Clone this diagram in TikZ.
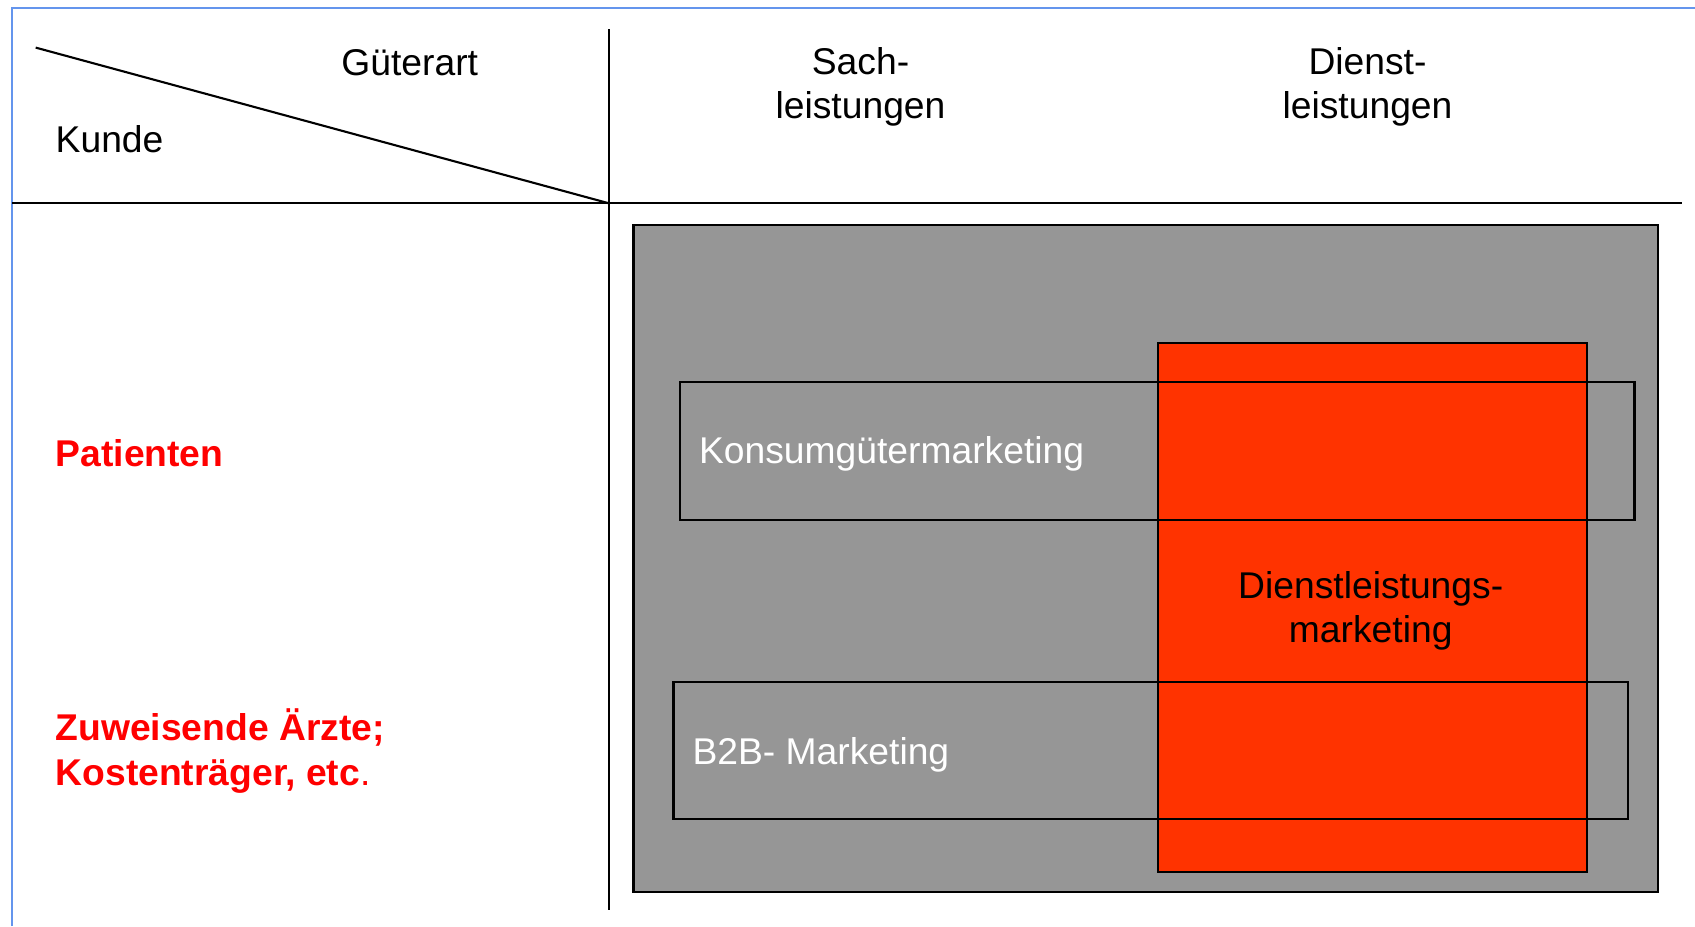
\documentclass[tikz,border=0pt]{standalone}
\usepackage{fontspec}
\setmainfont{Liberation Sans}
\usepackage{tikz}
\usepackage{xcolor}
\usetikzlibrary{positioning}

\definecolor{frameblue}{RGB}{100,149,237}
\definecolor{fieldgray}{RGB}{150,150,150}
\definecolor{svcred}{RGB}{255,51,0}
\definecolor{labelred}{RGB}{255,0,0}

\begin{document}
\begin{tikzpicture}
[
x=1cm, y=1cm,
grid-line/.style={line width=0.6pt},
box-a/.style={rectangle, draw, line width=0.6pt, inner sep=0pt, anchor=north west},
text-a/.style={font=\fontsize{10.6}{12.6}\selectfont, align=center, inner sep=0pt},
text-b/.style={text-a, anchor=west, align=left},
text-c/.style={text-b, text=labelred, font=\fontsize{10.6}{12.9}\selectfont\bfseries},
text-d/.style={text-b, text=white}
]

\useasboundingbox (0,0) rectangle (16.95,-9.26);

% frame
\draw [frameblue, line width=0.6pt] (0.12,-9.26) -- (0.12,-0.076) -- (16.95,-0.076);

% header grid
\coordinate (corner)   at (6.086,-2.032);
\coordinate (diag-top) at (0.357,-0.476);
\coordinate (col-top)  at (6.086,-0.292);
\coordinate (col-bot)  at (6.086,-9.10);
\coordinate (row-l)    at (0.12,-2.032);
\coordinate (row-r)    at (16.82,-2.032);
\draw [grid-line] (diag-top) -- (corner);
\draw [grid-line] (col-top) -- (col-bot);
\draw [grid-line] (row-l) -- (row-r);

\node (gueterart) [text-a] at (4.097,-0.63) {Güterart};
\node (kunde)     [text-b] at (0.55,-1.395)  {Kunde};
\node (sach)      [text-a] at (8.605,-0.87) {Sach-\\leistungen};
\node (dienst)    [text-a] at (13.675,-0.87) {Dienst-\\leistungen};

% customer rows
\node (patienten) [text-c] at (0.55,-4.53) {Patienten};
\node (aerzte)    [text-c] at (0.55,-7.51) {Zuweisende Ärzte;\\Kostenträger, etc\mdseries.};

% marketing fields
\node (field)   [box-a, fill=fieldgray, minimum width=10.246cm, minimum height=6.669cm] at (6.324,-2.238) {};
\node (service) [box-a, fill=svcred, minimum width=4.291cm, minimum height=5.297cm] at (11.567,-3.416) {};
\node (konsum)  [box-a, minimum width=9.545cm, minimum height=1.384cm] at (6.789,-3.805) {};
\node (btob)    [box-a, minimum width=9.545cm, minimum height=1.373cm] at (6.724,-6.81) {};

\node (konsum-lb)  [text-d, right=0.194cm of konsum.west, yshift=-0.035cm] {Konsumgütermarketing};
\node (btob-lb)    [text-d, right=0.194cm of btob.west, yshift=-0.04cm]    {B2B- Marketing};
\node (service-lb) [text-a] at (13.707,-6.11) {Dienstleistungs-\\marketing};

\end{tikzpicture}
\end{document}
